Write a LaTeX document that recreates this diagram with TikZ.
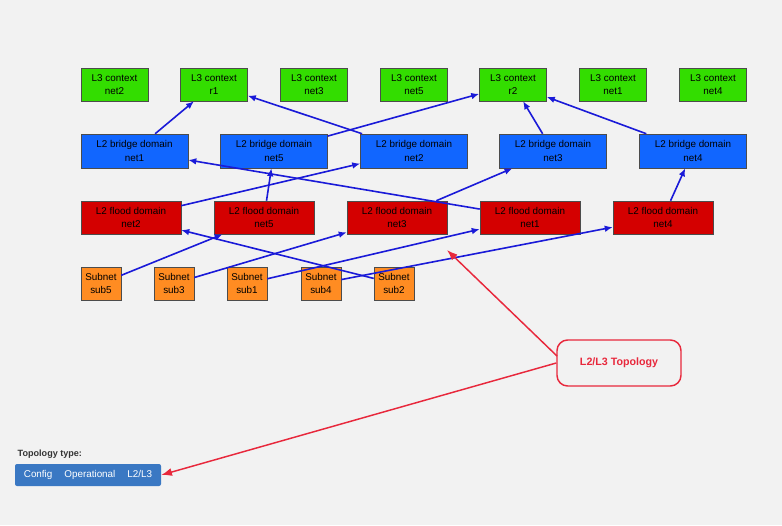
\documentclass[tikz,border=0pt]{standalone}
\usepackage{fontspec}
\setmainfont{Liberation Sans}
\usetikzlibrary{arrows.meta}
\definecolor{bg}{HTML}{F2F2F2}
\definecolor{ctxgreen}{HTML}{33DD00}
\definecolor{bdblue}{HTML}{1166FF}
\definecolor{fdred}{HTML}{D40000}
\definecolor{subora}{HTML}{FF8C22}
\definecolor{edgeblue}{HTML}{1A1AD8}
\definecolor{callred}{HTML}{E8283C}
\definecolor{btnblue}{HTML}{3A78C3}
\tikzset{
  box/.style={draw=black!70,rectangle,inner sep=0pt,align=center,font=\fontsize{7.4}{10}\selectfont},
  ctx/.style={box,fill=ctxgreen,minimum width=50.25pt,minimum height=24.75pt},
  bd/.style={box,fill=bdblue,minimum width=80.25pt,minimum height=25.5pt},
  fd/.style={box,fill=fdred,minimum width=75pt,minimum height=24.75pt},
  sub/.style={box,fill=subora,minimum width=30pt,minimum height=24.75pt},
  link/.style={-{Latex[length=6pt,width=5pt]},line width=1.2pt,draw=edgeblue},
  note/.style={-{Latex[length=8pt,width=6pt]},line width=1.1pt,draw=callred}
}
\begin{document}
\begin{tikzpicture}[x=0.75pt,y=-0.75pt]
\fill[bg] (0,0) rectangle (782,525);

% L3 contexts
\node[ctx] (c2) at (114.5,84.5) {L3 context\\net2};
\node[ctx] (r1) at (214,84.5) {L3 context\\r1};
\node[ctx] (c3) at (314,84.5) {L3 context\\net3};
\node[ctx] (c5) at (414,84.5) {L3 context\\net5};
\node[ctx] (r2) at (513,84.5) {L3 context\\r2};
\node[ctx] (c1) at (613,84.5) {L3 context\\net1};
\node[ctx] (c4) at (713,84.5) {L3 context\\net4};

% L2 bridge domains
\node[bd] (b1) at (134.5,151) {L2 bridge domain\\net1};
\node[bd] (b5) at (274,151) {L2 bridge domain\\net5};
\node[bd] (b2) at (414,151) {L2 bridge domain\\net2};
\node[bd] (b3) at (553,151) {L2 bridge domain\\net3};
\node[bd] (b4) at (693,151) {L2 bridge domain\\net4};

% L2 flood domains
\node[fd] (f2) at (131,217.5) {L2 flood domain\\net2};
\node[fd] (f5) at (264,217.5) {L2 flood domain\\net5};
\node[fd] (f3) at (397,217.5) {L2 flood domain\\net3};
\node[fd] (f1) at (530,217.5) {L2 flood domain\\net1};
\node[fd] (f4) at (663,217.5) {L2 flood domain\\net4};

% subnets
\node[sub] (s5) at (101,283.5) {Subnet\\sub5};
\node[sub] (s3) at (174,283.5) {Subnet\\sub3};
\node[sub] (s1) at (247,283.5) {Subnet\\sub1};
\node[sub] (s4) at (321,283.5) {Subnet\\sub4};
\node[sub] (s2) at (394,283.5) {Subnet\\sub2};

\draw[link] (b1) -- (r1);
\draw[link] (b2) -- (r1);
\draw[link] (b5) -- (r2);
\draw[link] (b3) -- (r2);
\draw[link] (b4) -- (r2);
\draw[link] (f2) -- (b2);
\draw[link] (f5) -- (b5);
\draw[link] (f1) -- (b1);
\draw[link] (f3) -- (b3);
\draw[link] (f4) -- (b4);
\draw[link] (s5) -- (f5);
\draw[link] (s2) -- (f2);
\draw[link] (s3) -- (f3);
\draw[link] (s1) -- (f1);
\draw[link] (s4) -- (f4);

% callout
\node[draw=callred,line width=1.1pt,rounded corners=8pt,fill=bg,minimum width=93pt,minimum height=34.5pt,
  text=callred,font=\bfseries\fontsize{8}{9}\selectfont] (topo) at (619,363) {L2/L3 Topology};
\node[anchor=west,font=\bfseries\fontsize{6.8}{8}\selectfont,text=black!80] (tt) at (13,454) {Topology type:};
\node[fill=btnblue,rounded corners=1.5pt,minimum width=109.5pt,minimum height=16.5pt,inner sep=0pt,
  text=white,font=\fontsize{7.4}{8}\selectfont] (btn) at (88,475)
  {Config\hspace{9pt}Operational\hspace{9pt}L2/L3};
\coordinate (tip) at (447,250);
\coordinate (t1) at (557,356);
\draw[note] (t1) -- (tip);
\draw[note] (topo.west) -- (btn.east);
\end{tikzpicture}
\end{document}
